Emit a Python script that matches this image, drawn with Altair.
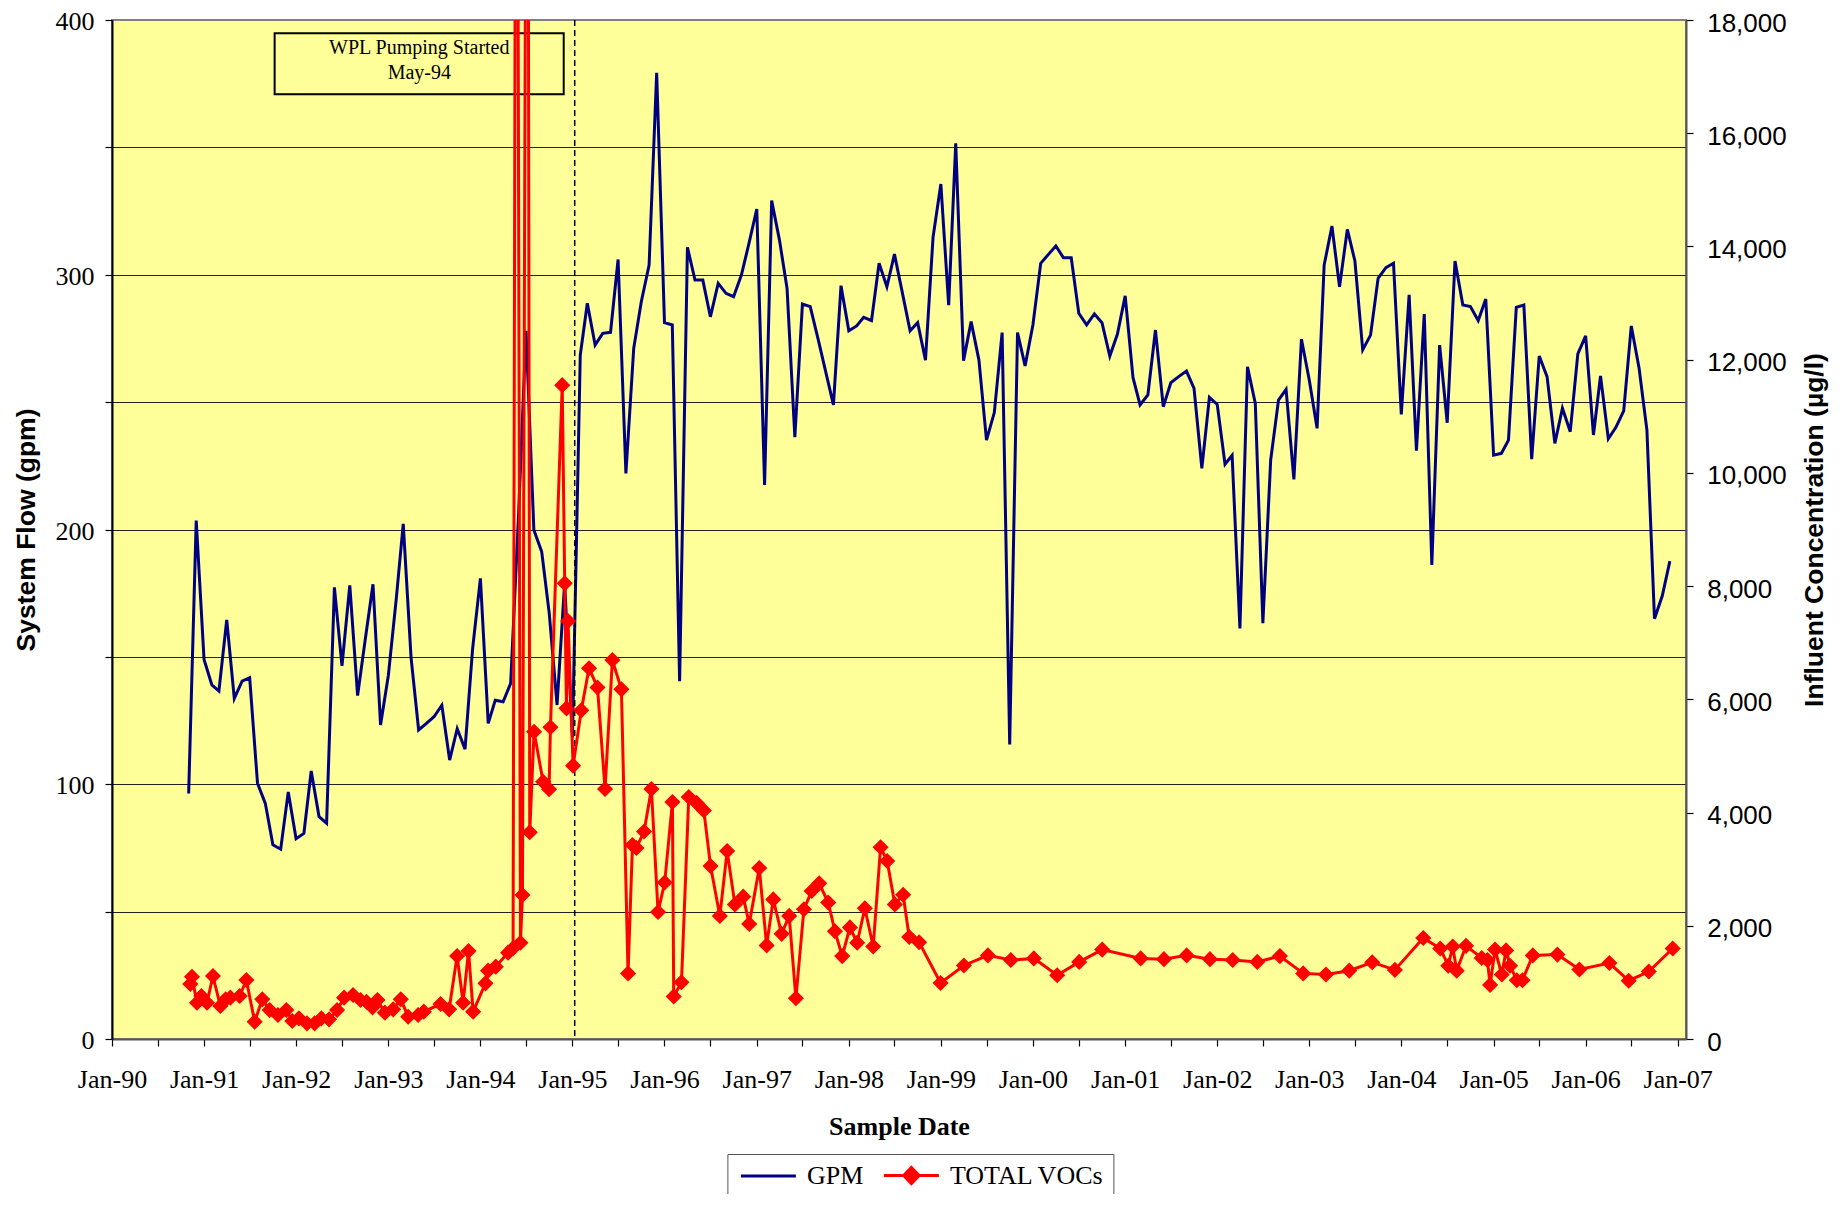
import altair as alt
import pandas as pd
import numpy as np

# ---------------- data ----------------
GPM_START = "1990-11-01"   # monthly readings start Nov-90
gpm = [96.4, 203.5, 149.0, 139.0, 136.6, 164.5, 133.7, 140.5, 141.8, 100.4,
       92.5, 76.2, 74.5, 97.0, 78.6, 80.7, 105.2, 87.3, 84.7, 177.3,
       146.5, 178.1, 134.8, 156.6, 178.5, 123.3, 142.8, 172.5, 202.2, 149.7,
       121.3, 123.9, 126.5, 131.0, 109.5, 121.8, 113.8, 153.1, 180.8, 123.9,
       133.0, 132.4, 139.6, 205.0, 278.0, 199.8, 191.3, 167.1, 131.1, 179.0,
       118.3, 268.5, 288.8, 272.4, 277.0, 277.4, 306.0, 222.0, 271.1, 289.4,
       303.8, 379.3, 281.2, 280.3, 140.4, 310.8, 297.9, 297.9, 283.5, 296.6,
       292.7, 291.4, 299.9, 312.3, 325.8, 217.5, 329.1, 313.6, 294.7, 236.2,
       288.5, 287.5, 274.8, 262.1, 248.9, 295.7, 278.0, 279.9, 283.3, 282.0,
       304.5, 295.3, 308.1, 293.1, 278.0, 281.2, 266.5, 314.7, 335.6, 288.1,
       351.6, 266.3, 281.6, 266.5, 235.1, 245.9, 277.3, 115.6, 277.3, 264.2,
       280.3, 304.5, 307.8, 311.3, 306.7, 306.7, 284.9, 280.3, 284.6, 281.2,
       268.1, 276.6, 291.7, 259.6, 248.9, 252.8, 278.3, 248.2, 257.6, 260.0,
       262.2, 255.4, 224.0, 251.9, 249.1, 225.6, 229.1, 161.2, 263.9, 249.5,
       163.2, 227.3, 250.8, 255.0, 219.7, 274.7, 258.7, 239.7, 303.8, 319.1,
       295.3, 317.8, 305.4, 270.5, 276.3, 298.6, 302.8, 304.5, 245.2, 292.1,
       230.9, 284.6, 186.1, 272.4, 241.9, 305.4, 288.1, 287.5, 282.0, 290.5,
       229.2, 229.9, 235.1, 287.2, 288.1, 227.6, 268.1, 260.0, 233.8, 247.6,
       238.4, 268.9, 276.0, 237.1, 260.3, 235.6, 240.1, 246.6, 279.9, 263.3,
       239.0, 165.0, 174.0, 187.6]

# sample dates of TOTAL VOCs, as decimal years
voc_year = [1990.851, 1990.869, 1990.923, 1990.971, 1991.032, 1991.097, 1991.177, 1991.235, 1991.286, 1991.387,
            1991.460, 1991.550, 1991.633, 1991.713, 1991.803, 1991.894, 1991.959, 1992.031, 1992.118, 1992.201,
            1992.274, 1992.357, 1992.444, 1992.520, 1992.617, 1992.698, 1992.763, 1992.828, 1992.882, 1992.962,
            1993.052, 1993.135, 1993.215, 1993.323, 1993.385, 1993.567, 1993.660, 1993.747, 1993.812, 1993.871,
            1993.921, 1994.055, 1994.083, 1994.167, 1994.301, 1994.355, 1994.392, 1994.435, 1994.457, 1994.511,
            1994.536, 1994.583, 1994.681, 1994.746, 1994.761, 1994.889, 1994.916, 1994.935, 1994.952, 1995.007,
            1995.096, 1995.180, 1995.272, 1995.354, 1995.434, 1995.532, 1995.604, 1995.652, 1995.695, 1995.778,
            1995.858, 1995.930, 1996.002, 1996.086, 1996.100, 1996.184, 1996.263, 1996.347, 1996.426, 1996.499,
            1996.600, 1996.679, 1996.763, 1996.853, 1996.918, 1997.027, 1997.107, 1997.179, 1997.270, 1997.352,
            1997.425, 1997.512, 1997.596, 1997.678, 1997.776, 1997.849, 1997.928, 1998.012, 1998.091, 1998.174,
            1998.265, 1998.345, 1998.417, 1998.500, 1998.590, 1998.656, 1998.764, 1998.997, 1999.250, 1999.511,
            1999.760, 2000.010, 2000.263, 2000.502, 2000.751, 2001.168, 2001.421, 2001.668, 2001.921, 2002.168,
            2002.435, 2002.681, 2002.934, 2003.181, 2003.434, 2003.684, 2003.930, 2004.238, 2004.422, 2004.509,
            2004.557, 2004.600, 2004.701, 2004.871, 2004.933, 2004.962, 2005.016, 2005.089, 2005.136, 2005.179,
            2005.252, 2005.313, 2005.426, 2005.693, 2005.932, 2006.258, 2006.468, 2006.686, 2006.946]
voc = [971, 1100, 641, 760, 641, 1113, 583, 701, 730, 760,
       1042, 306, 701, 512, 424, 512, 318, 365, 277, 277,
       365, 347, 512, 730, 777, 689, 659, 559, 689, 465,
       524, 701, 394, 424, 483, 618, 524, 1466, 641, 1554,
       483, 983, 1207, 1278, 1525, 1602, 30000, 1701, 2544, 30000,
       3651, 5428, 4545, 4411, 5506, 11550, 8049, 5841, 7384, 4828,
       5805, 6550, 6210, 4416, 6693, 6177, 1159, 3427, 3374, 3665,
       4416, 2243, 2764, 4186, 752, 1003, 4275, 4172, 4038, 3056,
       2174, 3321, 2378, 2514, 2033, 3021, 1653, 2466, 1857, 2174,
       719, 2291, 2614, 2750, 2411, 1904, 1464, 1971, 1701, 2310,
       1634, 3388, 3144, 2378, 2547, 1802, 1708, 989, 1299, 1477,
       1395, 1424, 1125, 1362, 1579, 1424, 1410, 1477, 1410, 1395,
       1362, 1464, 1159, 1139, 1207, 1355, 1221, 1785, 1599, 1295,
       1634, 1207, 1646, 1431, 1395, 956, 1579, 1139, 1565, 1295,
       1037, 1037, 1477, 1491, 1228, 1342, 1030, 1192, 1599]

series_names = ["GPM", "TOTAL VOCs"]
series_colors = ["#000080", "#FF0000"]
note_lines = ["WPL Pumping Started", "May-94"]
note_line_y = [386.7, 376.7]
note_box_years = [1991.767, 1994.905]
note_box_gpm = [370.9, 394.8]
note_center_year = 1993.336
pumping_marker = "1995-01-10"
x_domain = ["1990-01-01", "2007-02-03"]


def ms(ts):
    return int(pd.Timestamp(ts, tz="UTC").value // 10**6)


def dec_to_ms(y):
    yr = int(np.floor(y))
    start = pd.Timestamp(year=yr, month=1, day=1, tz="UTC")
    end = pd.Timestamp(year=yr + 1, month=1, day=1, tz="UTC")
    return int((start + (end - start) * (y - yr)).value // 10**6)


gpm_dates = pd.date_range(GPM_START, periods=len(gpm), freq="MS", tz="UTC")
gpm_df = pd.DataFrame({"t": [int(d.value // 10**6) for d in gpm_dates], "gpm": gpm})
voc_df = pd.DataFrame({"t": [dec_to_ms(y) for y in voc_year], "voc": voc})
box_df = pd.DataFrame({"t": [dec_to_ms(note_box_years[0])], "t1": [dec_to_ms(note_box_years[1])],
                       "gpm": [note_box_gpm[0]], "y1": [note_box_gpm[1]]})
text_df = pd.DataFrame({"t": [dec_to_ms(note_center_year)] * 2, "gpm": note_line_y, "txt": note_lines})
rule_df = pd.DataFrame({"t": [ms(pumping_marker)]})
legend_df = pd.DataFrame({"series": series_names})

tick_values = [ms(f"{y}-{m:02d}-01") for y in range(1990, 2008) for m in (1, 7) if not (y == 2007 and m == 7)]

xscale = alt.Scale(type="utc", domain=[ms(x_domain[0]), ms(x_domain[1])], nice=False)
yscale_l = alt.Scale(domain=[0, 400], nice=False, zero=True)
yscale_r = alt.Scale(domain=[0, 18000], nice=False, zero=True)

SERIF = "Liberation Serif"
SANS = "Liberation Sans"

x_axis = alt.Axis(values=tick_values,
                  labelExpr="utcmonth(datum.value) === 0 ? utcFormat(datum.value, '%b-%y') : ''",
                  labelFont=SERIF, labelFontSize=26, labelColor="black", labelBaseline="alphabetic",
                  labelPadding=41.7, labelOverlap=False, labelFlush=False, tickSize=7, tickColor="black",
                  tickWidth=1.2, domainColor="#555555", domainWidth=2, grid=False,
                  title="Sample Date", titleFont=SERIF, titleFontSize=26, titleFontWeight="bold",
                  titleColor="black", titleBaseline="alphabetic", titleX=787, titleY=95, titleAlign="center")

y_axis_l = alt.Axis(values=list(range(0, 401, 50)),
                    labelExpr="datum.value % 100 === 0 ? datum.label : ''",
                    labelFont=SERIF, labelFontSize=26, labelColor="black", labelPadding=11, labelOffset=1.5,
                    labelFlush=False, labelOverlap=False, tickSize=7, tickColor="black", tickWidth=1.2,
                    domainColor="black", domainWidth=2,
                    grid=True, gridColor="#222222", gridWidth=1.2,
                    gridOpacity={"condition": {"test": "datum.value === 0 || datum.value === 400", "value": 0},
                                 "value": 1},
                    title="System Flow (gpm)", titleFont=SANS, titleFontSize=26.5, titleFontWeight="bold",
                    titleColor="black", titleAngle=270, titleX=-86, titleY=509.5,
                    titleBaseline="middle", titleAlign="center")

y_axis_r = alt.Axis(orient="right", values=list(range(0, 18001, 2000)), format=",.0f",
                    labelFont=SANS, labelFontSize=26, labelColor="black", labelPadding=13.7, labelOffset=3,
                    labelFlush=False, labelOverlap=False, tickSize=7, tickColor="black", tickWidth=1.2,
                    domainColor="#555555", domainWidth=2, grid=False,
                    title="Influent Concentration (µg/l)", titleFont=SANS, titleFontSize=26.5,
                    titleFontWeight="bold", titleColor="black", titleAngle=270, titleX=128, titleY=509.5,
                    titleBaseline="middle", titleAlign="center")

X = alt.X("t:T", scale=xscale, axis=x_axis)
YL = alt.Y("gpm:Q", scale=yscale_l, axis=y_axis_l)
YR = alt.Y("voc:Q", scale=yscale_r, axis=y_axis_r)

# ---------------- left (GPM) layers ----------------
gpm_line = alt.Chart(gpm_df).mark_line(color=series_colors[0], strokeWidth=3).encode(x=X, y=YL)

box = alt.Chart(box_df).mark_rect(fill="transparent", stroke="black", strokeWidth=2).encode(
    x=X, x2="t1:T", y=YL, y2="y1:Q")

note = alt.Chart(text_df).mark_text(font=SERIF, fontSize=20, color="black", align="center",
                                    baseline="alphabetic").encode(x=X, y=YL, text="txt:N")

marker = alt.Chart(rule_df).mark_rule(color="black", strokeWidth=1.5, strokeDash=[6, 4]).encode(x=X)

left = alt.layer(gpm_line, box, note, marker)

# ---------------- right (VOC) layers ----------------
voc_line = alt.Chart(voc_df).mark_line(color=series_colors[1], strokeWidth=3, clip=True).encode(x=X, y=YR)

voc_pts = alt.Chart(voc_df).mark_point(shape="diamond", filled=True, size=260, opacity=1,
                                       color=series_colors[1], clip=True).encode(x=X, y=YR)

legend = alt.Legend(orient="none", legendX=615.4, legendY=1134, direction="horizontal", title=None,
                    labelFont=SERIF, labelFontSize=26, labelColor="black", labelLimit=400,
                    labelOffset=45, columnPadding=14, padding=8.5, symbolSize=256,
                    symbolStrokeWidth=3, fillColor="white", strokeColor="#555555", cornerRadius=0)
shape_paths = ["M-1,0L5.875,0",
               "M-1,0L5.875,0M2.4375,-1L3.4,0L2.4375,1L1.475,0Z"]
legend_layer = alt.Chart(legend_df).mark_point(filled=True, opacity=1, strokeWidth=3).encode(
    fill=alt.Fill("series:N", scale=alt.Scale(domain=series_names, range=series_colors), legend=legend),
    stroke=alt.Stroke("series:N", scale=alt.Scale(domain=series_names, range=series_colors), legend=legend),
    shape=alt.Shape("series:N", scale=alt.Scale(domain=series_names, range=shape_paths), legend=legend),
).transform_filter("false")

right = alt.layer(voc_line, voc_pts, legend_layer)

chart = alt.layer(left, right).resolve_scale(y="independent").properties(
    width=1574, height=1019,
    autosize=alt.AutoSizeParams(type="none"),
    padding={"left": 104, "top": 12, "right": 148, "bottom": 155},
    background="white",
    view=alt.ViewBackground(fill="#FFFF99", stroke="#808080", strokeWidth=2),
).configure_view(fill="#FFFF99", stroke="#808080", strokeWidth=2)

chart.save("out.html", embed_options={"renderer": "svg", "actions": False})
